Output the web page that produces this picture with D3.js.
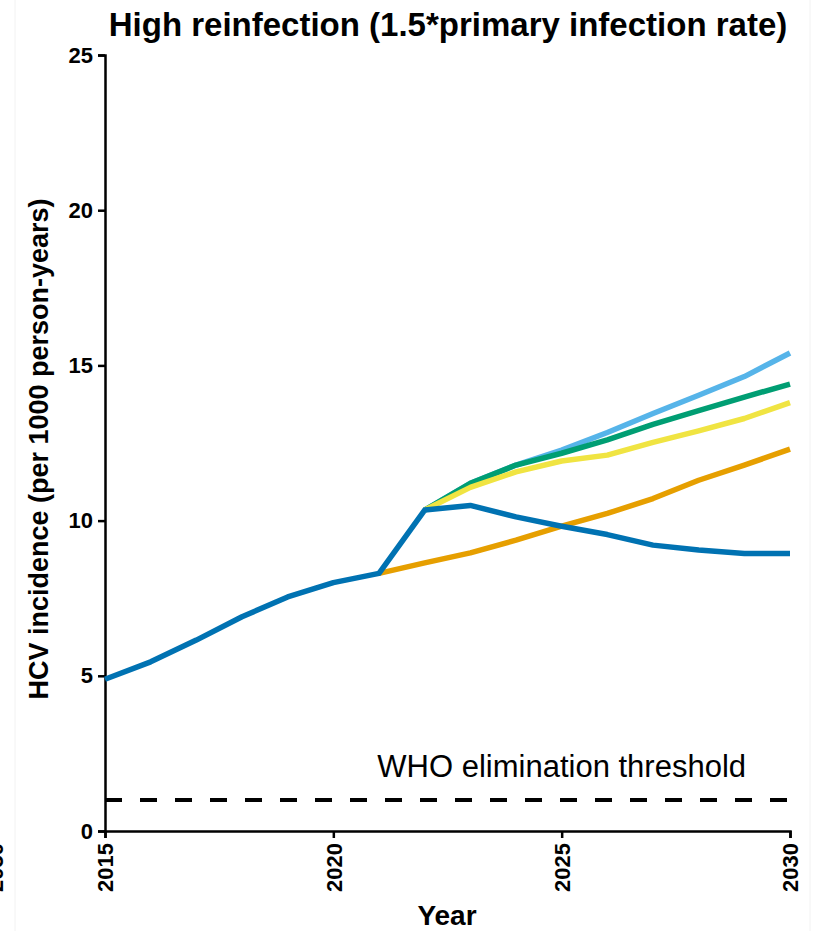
<!DOCTYPE html>
<html>
<head>
<meta charset="utf-8">
<script src="https://cdn.jsdelivr.net/npm/d3@7"></script>
<style>
  body { margin: 0; background: #fff; }
  svg text { font-family: "Liberation Sans", Arial, sans-serif; }
</style>
</head>
<body>
<div id="chart"></div>
<script>
// HCV incidence per 1000 person-years, high reinfection scenario

var years = d3.range(2015, 2031);
// baseline (dark blue) covers the whole span
var blueVals = [4.89, 5.45, 6.15, 6.9, 7.54, 8.0, 8.3, 10.34, 10.49, 10.12, 9.82, 9.55, 9.21, 9.05, 8.94, 8.94];
// scenario branches start at 2021 / 2022
var orangeYears = d3.range(2021, 2031);
var orangeVals = [8.3, 8.64, 8.96, 9.37, 9.82, 10.23, 10.71, 11.3, 11.79, 12.3];
var branchYears = d3.range(2022, 2031);
var yellowVals = [10.34, 11.07, 11.57, 11.92, 12.11, 12.52, 12.89, 13.29, 13.8];
var greenVals = [10.34, 11.2, 11.79, 12.17, 12.6, 13.1, 13.54, 13.98, 14.4];
var lightBlueVals = [10.34, 11.2, 11.79, 12.27, 12.84, 13.45, 14.04, 14.64, 15.4];

var yTicks = [0, 5, 10, 15, 20, 25];
var xTicks = [2015, 2020, 2025, 2030];
var threshold = 1;

var w = 823;
var h = 931;

var svg = d3.select("#chart").append("svg")
  .attr("width", w)
  .attr("height", h);

var xScale = d3.scaleLinear()
  .domain([2015, 2030])
  .range([105, 790]);

var yScale = d3.scaleLinear()
  .domain([0, 25])
  .range([831, 55]);

// faint page borders from the source figure
svg.append("line").attr("x1", 15).attr("x2", 15).attr("y1", 0).attr("y2", h)
  .attr("stroke", "#f2f2f2").attr("stroke-width", 1);
svg.append("line").attr("x1", 810).attr("x2", 810).attr("y1", 0).attr("y2", h)
  .attr("stroke", "#f2f2f2").attr("stroke-width", 1);

// clipped tick label from neighbouring panel
svg.append("text")
  .attr("transform", "translate(3,843) rotate(-90)")
  .attr("text-anchor", "end")
  .style("font-size", "22px")
  .attr("font-weight", "bold")
  .text("2030");

// axes
var yAxis = svg.append("g")
  .attr("transform", "translate(105,0)")
  .call(d3.axisLeft(yScale).tickValues(yTicks).tickSize(7).tickPadding(5));

var xAxis = svg.append("g")
  .attr("transform", "translate(0,831)")
  .call(d3.axisBottom(xScale).tickValues(xTicks).tickFormat(d3.format("d")).tickSize(7).tickPadding(5));

[yAxis, xAxis].forEach(function(g) {
  g.attr("font-size", null).attr("font-family", null);
  g.select(".domain").attr("stroke", "#000").attr("stroke-width", 2.5);
  g.selectAll(".tick line").attr("stroke", "#000").attr("stroke-width", 2.5);
  g.selectAll(".tick text")
    .attr("fill", "#000")
    .style("font-size", "22px")
    .style("font-weight", "bold")
    .style("font-family", "'Liberation Sans', Arial, sans-serif");
});

xAxis.selectAll(".tick text")
  .attr("transform", "rotate(-90)")
  .attr("text-anchor", "end")
  .attr("x", -12)
  .attr("y", 0)
  .attr("dy", "0.35em");

// threshold
svg.append("line")
  .attr("x1", xScale(2015))
  .attr("x2", xScale(2030))
  .attr("y1", yScale(threshold))
  .attr("y2", yScale(threshold))
  .attr("stroke", "#000")
  .attr("stroke-width", 4)
  .attr("stroke-dasharray", "17,18");

svg.append("text")
  .attr("x", xScale(2025))
  .attr("y", 777)
  .attr("text-anchor", "middle")
  .style("font-size", "31px")
  .text("WHO elimination threshold");

// lines
var line = d3.line()
  .x(function(d) { return xScale(d[0]); })
  .y(function(d) { return yScale(d[1]); });

var series = [
  { yrs: branchYears, vals: lightBlueVals, color: "#56B4E9" },
  { yrs: branchYears, vals: greenVals, color: "#009E73" },
  { yrs: branchYears, vals: yellowVals, color: "#F0E442" },
  { yrs: orangeYears, vals: orangeVals, color: "#E69F00" },
  { yrs: years, vals: blueVals, color: "#0072B2" }
];

svg.selectAll("path.series")
  .data(series)
  .enter()
  .append("path")
  .attr("class", "series")
  .attr("d", function(s) { return line(d3.zip(s.yrs, s.vals)); })
  .attr("fill", "none")
  .attr("stroke", function(s) { return s.color; })
  .attr("stroke-width", 5.5)
  .attr("stroke-linejoin", "round");

// titles
svg.append("text")
  .attr("x", 448)
  .attr("y", 36)
  .attr("text-anchor", "middle")
  .style("font-size", "33px")
  .attr("font-weight", "bold")
  .text("High reinfection (1.5*primary infection rate)");

svg.append("text")
  .attr("transform", "translate(48,449) rotate(-90)")
  .attr("text-anchor", "middle")
  .style("font-size", "27px")
  .attr("font-weight", "bold")
  .text("HCV incidence (per 1000 person-years)");

svg.append("text")
  .attr("x", 447)
  .attr("y", 925)
  .attr("text-anchor", "middle")
  .style("font-size", "28px")
  .attr("font-weight", "bold")
  .text("Year");
</script>
</body>
</html>
